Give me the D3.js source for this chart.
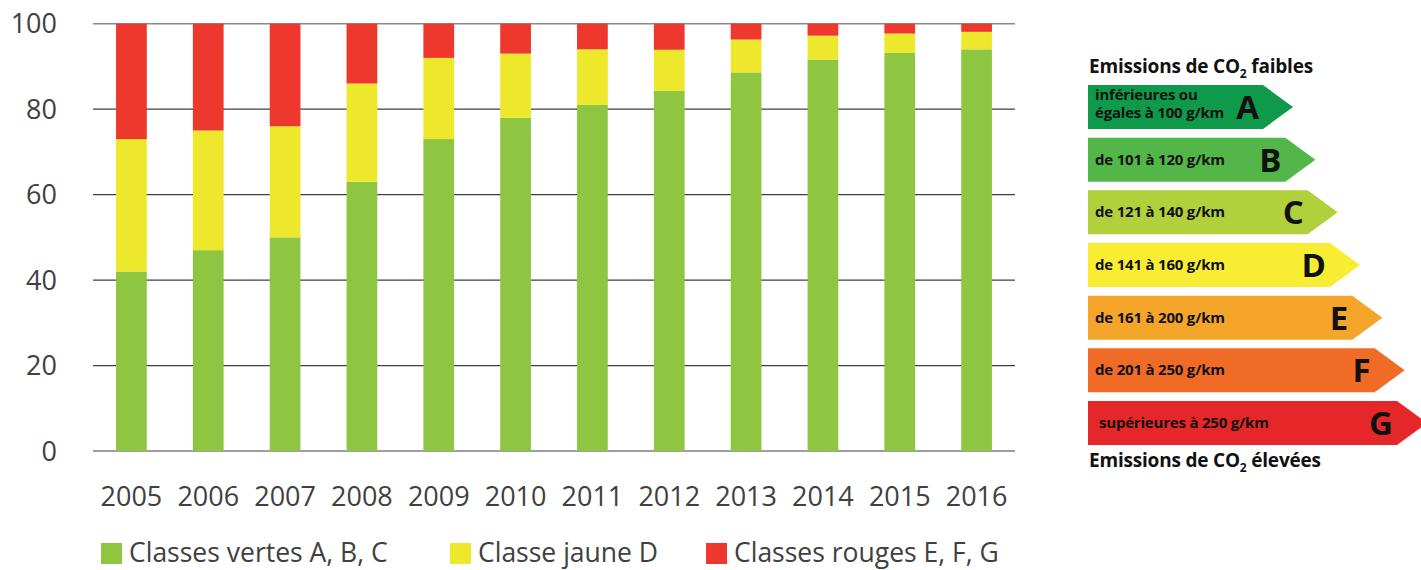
<!DOCTYPE html>
<html>
<head>
<meta charset="utf-8">
<script src="https://cdn.jsdelivr.net/npm/d3@7/dist/d3.min.js"></script>
<style>
  html, body { margin: 0; padding: 0; background: #fff; }
  svg { display: block; font-family: "Open Sans", sans-serif; }
</style>
</head>
<body>
<svg id="chart" width="1421" height="570"></svg>
<script>
// ── Data ──────────────────────────────────────────────────────────────────
const YEARS  = ['2005','2006','2007','2008','2009','2010','2011','2012','2013','2014','2015','2016'];
const GREEN  = [42, 47, 50, 63, 73, 78, 81, 84.3, 88.6, 91.6, 93.2, 94];
const YELLOW = [31, 28, 26, 23, 19, 15, 13, 9.6, 7.7, 5.6, 4.5, 4.1];
const RED    = [27, 25, 24, 14, 8, 7, 6, 6.1, 3.7, 2.8, 2.3, 1.9];
const Y_TICKS = [0, 20, 40, 60, 80, 100];

const SERIES = [
  { key: 'green',  label: 'Classes vertes A, B, C', color: '#8fc641', values: GREEN },
  { key: 'yellow', label: 'Classe jaune D',         color: '#ede82b', values: YELLOW },
  { key: 'red',    label: 'Classes rouges E, F, G', color: '#ee372d', values: RED }
];

// energy label scale on the right
const CLASSES = ['A', 'B', 'C', 'D', 'E', 'F', 'G'];
const CLASS_TEXT = [
  ['inférieures ou', 'égales à 100 g/km'],
  ['de 101 à 120 g/km'],
  ['de 121 à 140 g/km'],
  ['de 141 à 160 g/km'],
  ['de 161 à 200 g/km'],
  ['de 201 à 250 g/km'],
  ['supérieures à 250 g/km']
];
const CLASS_COLORS = ['#0f9a4b', '#52b748', '#b1d03b', '#f8ed33', '#f5a52a', '#f06b25', '#e52729'];

// ── Chart ─────────────────────────────────────────────────────────────────
const svg = d3.select('#chart');

const x = d3.scaleBand().domain(YEARS).range([93, 1015]).paddingInner(0.6).paddingOuter(0.3);
const y = d3.scaleLinear().domain([0, 100]).range([451, 23.7]);

// gridlines
const grid = svg.append('g');
grid.selectAll('line')
  .data(Y_TICKS)
  .join('line')
  .attr('x1', 93).attr('x2', 1015)
  .attr('y1', d => y(d)).attr('y2', d => y(d))
  .attr('stroke', d => d === 100 ? '#8a8a8a' : '#404040')
  .attr('stroke-width', d => d === 100 ? 1.6 : 1.2);

// y tick labels
const yAxis = d3.axisLeft(y).tickValues(Y_TICKS).tickSize(0).tickPadding(0);
svg.append('g')
  .attr('transform', 'translate(57,0)')
  .call(yAxis)
  .call(g => g.select('.domain').remove())
  .selectAll('text')
  .attr('font-family', '"Open Sans", sans-serif')
  .attr('font-size', 27)
  .attr('fill', '#404040')
  .attr('dy', '0.34em');

// x labels
const xAxis = d3.axisBottom(x).tickSize(0).tickPadding(0);
svg.append('g')
  .attr('transform', 'translate(0,506)')
  .call(xAxis)
  .call(g => g.select('.domain').remove())
  .selectAll('text')
  .attr('font-family', '"Open Sans", sans-serif')
  .attr('font-size', 27)
  .attr('fill', '#404040')
  .attr('dy', 0);

// stacked bars
const rows = YEARS.map((yr, i) => ({ year: yr, green: GREEN[i], yellow: YELLOW[i], red: RED[i] }));
const stack = d3.stack().keys(SERIES.map(s => s.key))(rows);

svg.append('g')
  .selectAll('g')
  .data(stack)
  .join('g')
  .attr('fill', (d, i) => SERIES[i].color)
  .selectAll('rect')
  .data(d => d)
  .join('rect')
  .attr('x', d => x(d.data.year))
  .attr('width', x.bandwidth())
  .attr('y', d => y(Math.min(100, d[1])))
  .attr('height', d => y(d[0]) - y(Math.min(100, d[1])));

// bottom legend
const LEGEND_X = [101, 450, 706];
const legend = svg.append('g')
  .selectAll('g')
  .data(SERIES)
  .join('g')
  .attr('transform', (d, i) => 'translate(' + LEGEND_X[i] + ',543)');
legend.append('rect')
  .attr('width', 21).attr('height', 21)
  .attr('fill', d => d.color);
legend.append('text')
  .attr('x', 28).attr('y', 19)
  .attr('font-size', 26.5)
  .attr('fill', '#404040')
  .text(d => d.label);

// ── Energy label panel ────────────────────────────────────────────────────
const panel = svg.append('g');
const ry = d3.scaleBand().domain(CLASSES).range([85, 445]).paddingInner(0.165).paddingOuter(0);
const rlen = d3.scaleLinear().domain([0, CLASSES.length - 1]).range([175, 309]);
const X0 = 1088, TIP = 30;

const arrows = panel.selectAll('g.cls')
  .data(CLASSES)
  .join('g')
  .attr('class', 'cls')
  .attr('transform', d => 'translate(' + X0 + ',' + ry(d) + ')');

arrows.append('path')
  .attr('fill', (d, i) => CLASS_COLORS[i])
  .attr('d', (d, i) => {
    const w = rlen(i), h = ry.bandwidth();
    return 'M0,0H' + w + 'L' + (w + TIP) + ',' + (h / 2) + 'L' + w + ',' + h + 'H0Z';
  });

arrows.append('text')
  .attr('text-anchor', 'end')
  .attr('x', (d, i) => rlen(i) - 4)
  .attr('y', ry.bandwidth() / 2 + 12)
  .attr('font-size', 33)
  .attr('font-weight', 700)
  .attr('fill', '#111')
  .text(d => d);

arrows.each(function (d, i) {
  const lines = CLASS_TEXT[i];
  const t = d3.select(this).append('text')
    .attr('font-size', 15)
    .attr('font-weight', 700)
    .attr('letter-spacing', -0.2)
    .attr('fill', '#111');
  const h = ry.bandwidth();
  const base = lines.length === 1 ? h / 2 + 5 : h / 2 - 7;
  lines.forEach((ln, k) => {
    t.append('tspan')
      .attr('x', d === 'G' ? 11 : 7)
      .attr('y', base + k * 18)
      .text(ln);
  });
});

function co2Title(yPos, tail) {
  const t = panel.append('text')
    .attr('x', 1089).attr('y', yPos)
    .attr('font-size', 19)
    .attr('font-weight', 700)
    .attr('letter-spacing', -0.2)
    .attr('fill', '#111');
  t.append('tspan').text('Emissions de CO');
  t.append('tspan').attr('font-size', 12).attr('dy', 5).text('2');
  t.append('tspan').attr('dy', -5).text(' ' + tail);
}
co2Title(73, 'faibles');
co2Title(467, 'élevées');
</script>
</body>
</html>
